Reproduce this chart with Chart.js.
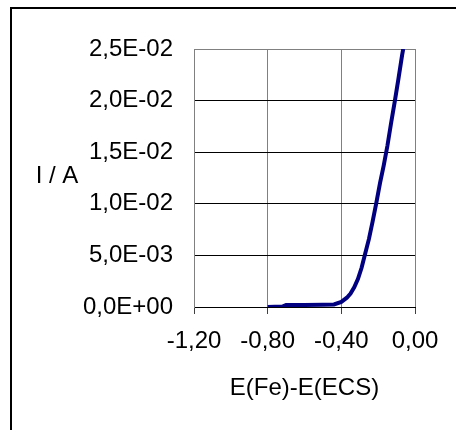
<!DOCTYPE html>
<html>
<head>
<meta charset="utf-8">
<script src="https://cdn.jsdelivr.net/npm/chart.js@4/dist/chart.umd.min.js"></script>
<style>
  html, body { margin: 0; padding: 0; background: #fff; overflow: hidden; }
  #wrap { position: relative; width: 456px; height: 430px; }
</style>
</head>
<body>
<div id="wrap"><canvas id="c" width="456" height="430"></canvas></div>
<script>
// E(Fe)-E(ECS) in V, current in A
const potential = [-0.80, -0.72, -0.70, -0.60, -0.50, -0.44, -0.40, -0.37, -0.35, -0.33, -0.31, -0.29, -0.27, -0.25, -0.23, -0.21, -0.19, -0.17, -0.15, -0.13, -0.11, -0.09, -0.07, -0.064];
const current = [0, 0.00005, 0.0002, 0.0002, 0.00022, 0.00025, 0.0005, 0.0009, 0.0013, 0.0019, 0.0027, 0.0038, 0.0052, 0.0066, 0.0083, 0.0101, 0.0120, 0.0137, 0.0156, 0.0178, 0.0199, 0.0221, 0.0244, 0.0250];

const xTicks = [-1.2, -0.8, -0.4, 0];
const xTickLabels = ['-1,20', '-0,80', '-0,40', '0,00'];
const yTicks = [0, 0.005, 0.01, 0.015, 0.02, 0.025];
const yTickLabels = ['0,0E+00', '5,0E-03', '1,0E-02', '1,5E-02', '2,0E-02', '2,5E-02'];

const FONT = 'Arial, "Liberation Sans", sans-serif';

function labelFor(ticks, labels, v) {
  const i = ticks.findIndex(t => Math.abs(t - v) < 1e-9);
  return i >= 0 ? labels[i] : '';
}

// outer frame + horizontal "I / A" axis title
const extras = {
  id: 'extras',
  afterDraw(chart) {
    const ctx = chart.ctx;
    const area = chart.chartArea;
    ctx.save();
    ctx.fillStyle = '#000';
    ctx.fillRect(10, 7, 446, 2);
    ctx.fillRect(10, 7, 2, 423);
    ctx.font = '24px ' + FONT;
    ctx.textAlign = 'center';
    ctx.textBaseline = 'middle';
    ctx.fillText('I / A', 57, (area.top + area.bottom) / 2 - 2);
    ctx.restore();
  }
};

new Chart(document.getElementById('c').getContext('2d'), {
  type: 'line',
  data: {
    datasets: [{
      data: potential.map((x, i) => ({ x, y: current[i] })),
      borderColor: '#000080',
      borderWidth: 4,
      pointRadius: 0,
      tension: 0,
      fill: false
    }]
  },
  options: {
    responsive: false,
    animation: false,
    events: [],
    layout: { padding: { top: 49, right: 41, left: 0, bottom: 0 } },
    plugins: { legend: { display: false }, tooltip: { enabled: false } },
    scales: {
      x: {
        type: 'linear',
        min: -1.2,
        max: 0,
        afterBuildTicks: s => { s.ticks = xTicks.map(v => ({ value: v })); },
        afterFit: s => { s.height = 123; },
        grid: { color: '#808080', lineWidth: 1, tickLength: 7, tickColor: '#404040' },
        border: { color: '#000', width: 1 },
        ticks: {
          padding: 13,
          color: '#000',
          font: { family: FONT, size: 24 },
          maxRotation: 0,
          callback: v => labelFor(xTicks, xTickLabels, v)
        },
        title: {
          display: true,
          text: 'E(Fe)-E(ECS)',
          color: '#000',
          font: { family: FONT, size: 24 },
          padding: { top: 0, bottom: 27 }
        }
      },
      y: {
        min: 0,
        max: 0.025,
        afterBuildTicks: s => { s.ticks = yTicks.map(v => ({ value: v })); },
        afterFit: s => { s.width = 194; },
        grid: {
          drawTicks: false,
          lineWidth: 1,
          color: c => (c.tick && c.tick.value >= 0.025) ? '#808080' : '#000'
        },
        border: { color: '#808080', width: 1 },
        ticks: {
          padding: 21,
          color: '#000',
          font: { family: FONT, size: 24 },
          callback: v => labelFor(yTicks, yTickLabels, v)
        }
      }
    }
  },
  plugins: [extras]
});
</script>
</body>
</html>
